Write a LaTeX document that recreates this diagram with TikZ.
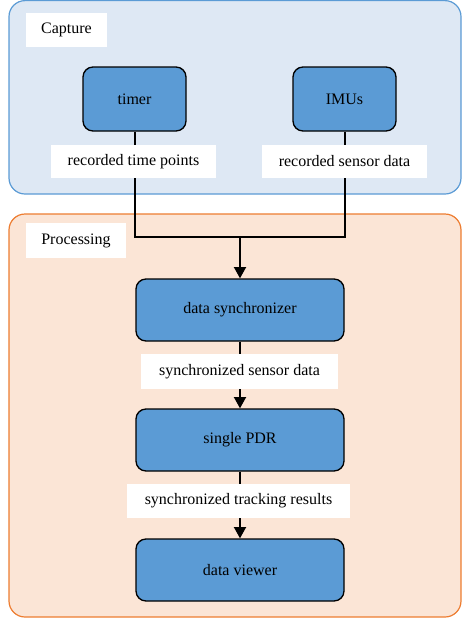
\documentclass[tikz,border=0pt]{standalone}
\usepackage{fontspec}
\setmainfont{Liberation Serif}
\usetikzlibrary{arrows.meta}
\definecolor{capfill}{HTML}{DEE8F4}
\definecolor{capline}{HTML}{5B9BD5}
\definecolor{procfill}{HTML}{FBE5D6}
\definecolor{procline}{HTML}{ED7D31}
\definecolor{boxfill}{HTML}{5B9BD5}
\begin{document}
\begin{tikzpicture}[x=0.75pt,y=-0.75pt,
  container/.style={rounded corners=12pt, line width=0.9pt},
  stepbox/.style={draw=black, fill=boxfill, rounded corners=7.5pt, line width=1pt, inner sep=0pt, font=\fontsize{12}{14}\selectfont},
  tag/.style={fill=white, inner sep=0pt, font=\fontsize{12}{14}\selectfont},
  conn/.style={line width=1.5pt},
  arr/.style={conn, -{Triangle[length=8.5pt,width=9pt]}}]
\useasboundingbox (0,0) rectangle (462,619);
% containers
\draw[container, fill=capfill, draw=capline] (9,0.6) rectangle (461,194);
\draw[container, fill=procfill, draw=procline] (9,214) rectangle (461,617);
\node[tag, minimum width=81*0.75pt, minimum height=34*0.75pt] (caplbl) at (66.5,30) {Capture};
\node[tag, minimum width=100*0.75pt, minimum height=35*0.75pt] (proclbl) at (76,240.5) {Processing};
% boxes
\node[stepbox, minimum width=103*0.75pt, minimum height=64*0.75pt] (timer) at (134.5,99) {timer};
\node[stepbox, minimum width=103*0.75pt, minimum height=64*0.75pt] (imus) at (344.5,99) {IMUs};
\node[stepbox, minimum width=208*0.75pt, minimum height=62*0.75pt] (sync) at (240,310) {data synchronizer};
\node[stepbox, minimum width=208*0.75pt, minimum height=62*0.75pt] (pdr) at (240,440) {single PDR};
\node[stepbox, minimum width=208*0.75pt, minimum height=62*0.75pt] (viewer) at (240,570) {data viewer};
% connectors
\coordinate (j) at (240,237);
\draw[conn] (timer.south) |- (j);
\draw[conn] (imus.south) |- (j);
\draw[arr] (j) -- (sync.north);
\draw[arr] (sync.south) -- (pdr.north);
\draw[arr] (pdr.south) -- (viewer.north);
% labels
\node[tag, minimum width=165*0.75pt, minimum height=33*0.75pt] (l1) at (133.5,161.5) {recorded time points};
\node[tag, minimum width=165*0.75pt, minimum height=33*0.75pt] (l2) at (344.5,161.5) {recorded sensor data};
\node[tag, minimum width=197*0.75pt, minimum height=35*0.75pt] (l3) at (239.5,371.5) {synchronized sensor data};
\node[tag, minimum width=223*0.75pt, minimum height=34*0.75pt] (l4) at (238.5,501) {synchronized tracking results};
\end{tikzpicture}
\end{document}
